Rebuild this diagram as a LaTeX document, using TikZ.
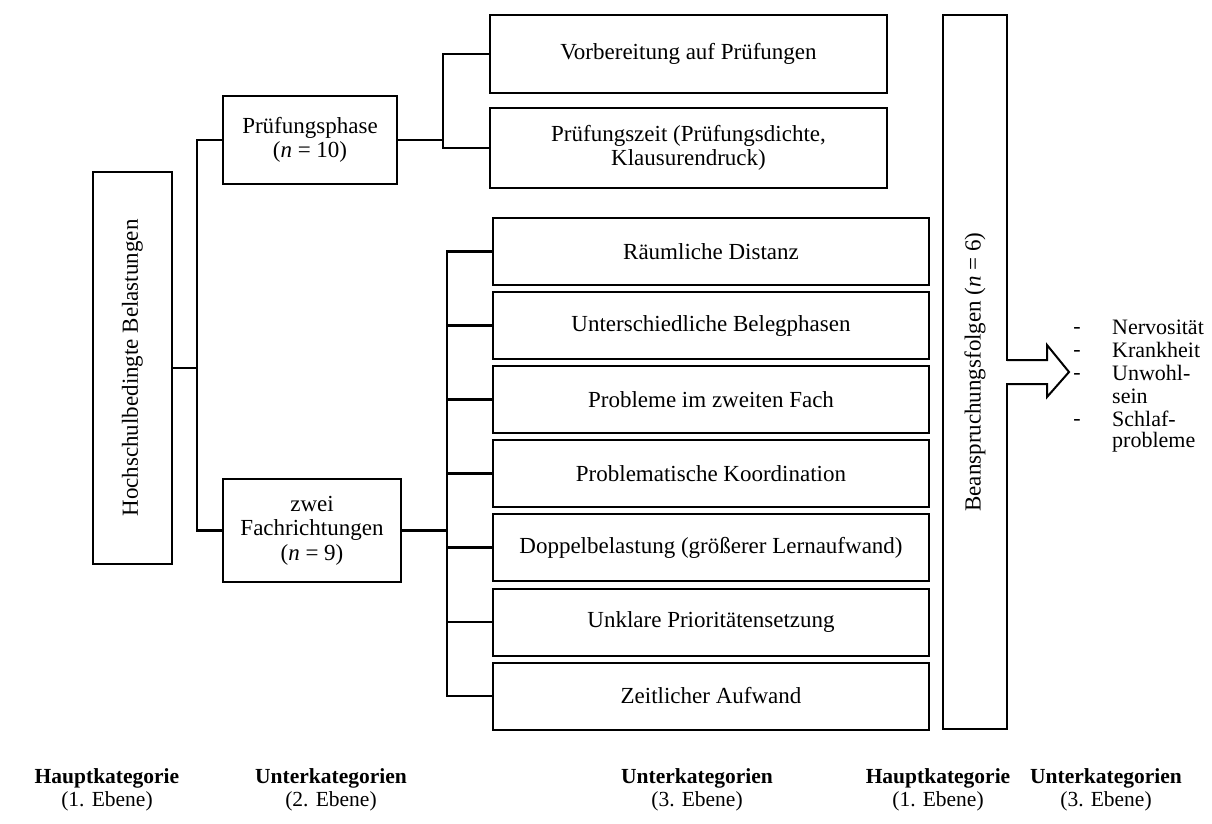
\documentclass[tikz,border=0pt]{standalone}
\usepackage{fontspec}
\setmainfont{Liberation Serif}
\begin{document}
\begin{tikzpicture}[x=1pt,y=-1pt,
  box/.style={draw=black, line width=2pt, inner sep=2pt, outer sep=0pt, align=center,
    font=\fontsize{23}{24.5}\selectfont},
  conn/.style={draw=black, line width=2.2pt},
  lbl/.style={align=center, font=\fontsize{21.5}{23}\selectfont},
  lst/.style={font=\fontsize{22}{24}\selectfont, inner sep=0pt}]
\useasboundingbox (0,0) rectangle (1212,824);
% level 1
\node[box, minimum width=79pt, minimum height=392pt] (H) at (132.5,368) {};
\node[rotate=90, font=\fontsize{23}{24}\selectfont] at (H.center) {Hochschulbedingte Belastungen};
% level 2
\node[box, minimum width=174pt, minimum height=87pt] (P) at (310,140) {Prüfungsphase\\(\textit{n} = 10)};
\node[box, minimum width=178pt, minimum height=103pt] (Z) at (312,530.5) {zwei\\Fachrichtungen\\(\textit{n} = 9)};
% level 3 upper
\node[box, minimum width=397pt, minimum height=78pt] (U1) at (688.5,54) {Vorbereitung auf Prüfungen};
\node[box, minimum width=397pt, minimum height=80pt] (U2) at (688.5,148) {Prüfungszeit (Prüfungsdichte,\\Klausurendruck)};
% level 3 lower
\node[box, minimum width=436pt, minimum height=67pt] (L1) at (711,251.5) {Räumliche Distanz};
\node[box, minimum width=436pt, minimum height=67pt] (L2) at (711,325.5) {Unterschiedliche Belegphasen};
\node[box, minimum width=436pt, minimum height=67pt] (L3) at (711,399.5) {Probleme im zweiten Fach};
\node[box, minimum width=436pt, minimum height=67pt] (L4) at (711,473.5) {Problematische Koordination};
\node[box, minimum width=436pt, minimum height=67pt] (L5) at (711,547.5) {Doppelbelastung (größerer Lernaufwand)};
\node[box, minimum width=436pt, minimum height=67pt] (L6) at (711,622) {Unklare Prioritätensetzung};
\node[box, minimum width=436pt, minimum height=67pt] (L7) at (711,696) {Zeitlicher Aufwand};
% Beanspruchungsfolgen
\node[box, minimum width=64pt, minimum height=714pt] (B) at (975,372) {};
\node[rotate=90, font=\fontsize{23}{24}\selectfont] at (B.center) {Beanspruchungsfolgen (\textit{n} = 6)};
% arrow
\coordinate (a0) at (1007,360);
\coordinate (a1) at (1007,384);
\fill[white] (1005,361) rectangle (1009,383);
\draw[line width=2pt, line join=miter] (a0) -- (1047,360) -- (1047,345) -- (1069,372) -- (1047,397) -- (1047,384) -- (a1);
% connectors
\draw[conn] (H.east) -- ++(25,0) |- (P.west);
\draw[conn] (H.east) -- ++(25,0) |- (Z.west);
\draw[conn] (P.east) -- ++(46,0) |- (U1.west);
\draw[conn] (P.east) -- ++(46,0) |- (U2.west);
\foreach \i in {1,...,7} {\draw[conn] (Z.west -| Z.east) -- (447,530.5) |- (L\i.west);}
% list
\foreach \y/\t/\d in {327/Nervosität/1, 350/Krankheit/1, 373/Unwohl-/1, 396/sein/0, 419/Schlaf-/1, 442/probleme/0} {
  \node[lst, anchor=west] (t\y) at (1112,\y) {\t};
  \ifnum\d=1 \node[lst] (d\y) at (1077,\y+3) {-}; \fi
}
% bottom labels
\node[lbl] (c1) at (107,790) {\textbf{Hauptkategorie}\\(1. Ebene)};
\node[lbl] (c2) at (331,790) {\textbf{Unterkategorien}\\(2. Ebene)};
\node[lbl] (c3) at (697,790) {\textbf{Unterkategorien}\\(3. Ebene)};
\node[lbl] (c4) at (938,790) {\textbf{Hauptkategorie}\\(1. Ebene)};
\node[lbl] (c5) at (1106,790) {\textbf{Unterkategorien}\\(3. Ebene)};
\end{tikzpicture}
\end{document}
